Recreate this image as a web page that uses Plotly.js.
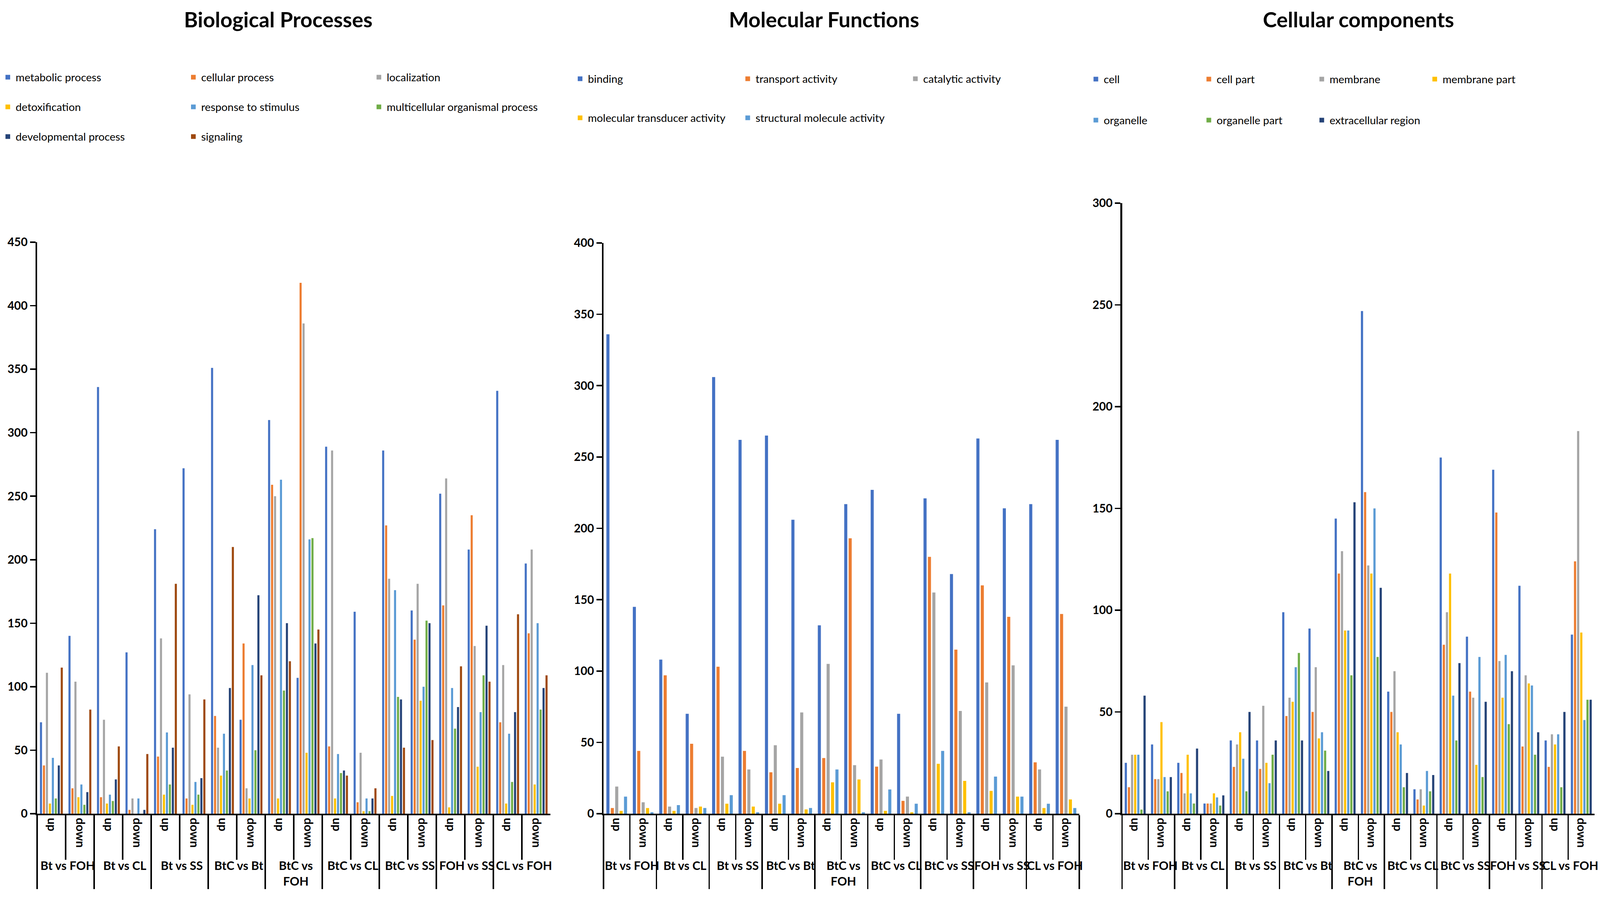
<!DOCTYPE html>
<html>
<head>
<meta charset="utf-8">
<script src="https://cdn.plot.ly/plotly-3.0.1.min.js"></script>
<style>
  html, body { margin: 0; padding: 0; overflow: hidden; background: #fff; }
  #chart { width: 100vw; height: 100vh; }
</style>
</head>
<body>
<div id="chart"></div>
<script>
// comparisons and direction (outer / inner category)
const comparisons = ['Bt vs FOH', 'Bt vs CL', 'Bt vs SS', 'BtC vs Bt', 'BtC vs<br>FOH',
                     'BtC vs CL', 'BtC vs SS', 'FOH vs SS', 'CL vs FOH'];
const directions = ['up', 'down'];

// Biological Processes
const bpNames = ['metabolic process', 'cellular process', 'localization', 'detoxification',
                 'response to stimulus', 'multicellular organismal process',
                 'developmental process', 'signaling'];
const metabolic     = [72, 140, 336, 127, 224, 272, 351, 74, 310, 107, 289, 159, 286, 160, 252, 208, 333, 197];
const cellular      = [38, 20, 13, 3, 45, 12, 77, 134, 259, 418, 53, 9, 227, 137, 164, 235, 72, 142];
const localization  = [111, 104, 74, 12, 138, 94, 52, 20, 250, 386, 286, 48, 185, 181, 264, 132, 117, 208];
const detox         = [8, 13, 8, 0, 15, 7, 30, 12, 12, 48, 12, 2, 14, 89, 5, 37, 8, 23];
const response      = [44, 23, 15, 12, 64, 25, 63, 117, 263, 216, 47, 12, 176, 100, 99, 80, 63, 150];
const multicellular = [12, 7, 10, 0, 23, 15, 34, 50, 97, 217, 32, 2, 92, 152, 67, 109, 25, 82];
const developmental = [38, 17, 27, 3, 52, 28, 99, 172, 150, 134, 34, 12, 90, 150, 84, 148, 80, 99];
const signaling     = [115, 82, 53, 47, 181, 90, 210, 109, 120, 145, 30, 20, 52, 58, 116, 104, 157, 109];

// Molecular Functions
const mfNames = ['binding', 'transport activity', 'catalytic activity',
                 'molecular transducer activity', 'structural molecule activity'];
const binding    = [336, 145, 108, 70, 306, 262, 265, 206, 132, 217, 227, 70, 221, 168, 263, 214, 217, 262];
const transport  = [4, 44, 97, 49, 103, 44, 29, 32, 39, 193, 33, 9, 180, 115, 160, 138, 36, 140];
const catalytic  = [19, 8, 5, 4, 40, 31, 48, 71, 105, 34, 38, 12, 155, 72, 92, 104, 31, 75];
const transducer = [2, 4, 2, 5, 7, 5, 7, 3, 22, 24, 2, 1, 35, 23, 16, 12, 4, 10];
const structural = [12, 1, 6, 4, 13, 1, 13, 4, 31, 1, 17, 7, 44, 1, 26, 12, 7, 4];

// Cellular components
const ccNames = ['cell', 'cell part', 'membrane', 'membrane part', 'organelle',
                 'organelle part', 'extracellular region'];
const cell          = [25, 34, 25, 5, 36, 36, 99, 91, 145, 247, 60, 12, 175, 87, 169, 112, 36, 88];
const cellPart      = [13, 17, 20, 5, 23, 22, 48, 50, 118, 158, 50, 7, 83, 60, 148, 33, 23, 124];
const membrane      = [29, 17, 10, 5, 34, 53, 57, 72, 129, 122, 70, 12, 99, 57, 75, 68, 39, 188];
const membranePart  = [29, 45, 29, 10, 40, 25, 55, 37, 90, 118, 40, 4, 118, 24, 57, 64, 34, 89];
const organelle     = [29, 18, 10, 8, 27, 15, 72, 40, 90, 150, 34, 21, 58, 77, 78, 63, 39, 46];
const organellePart = [2, 11, 5, 4, 11, 29, 79, 31, 68, 77, 13, 11, 36, 18, 44, 29, 13, 56];
const extracellular = [58, 18, 32, 9, 50, 36, 36, 21, 153, 111, 20, 19, 74, 55, 70, 40, 50, 56];

const colors = ['#4472C4', '#ED7D31', '#A5A5A5', '#FFC000', '#5B9BD5', '#70AD47', '#264478', '#9E480E'];

// build the two-level category arrays
const outer = [], inner = [];
comparisons.forEach(c => directions.forEach(d => { outer.push(c); inner.push(d); }));
const xcats = [outer, inner];

// design is laid out on a 4563 x 2350 grid, scaled to the real window
const RW = 4563, RH = 2350, RB = 267, RPH = RH - RB;
const W = window.innerWidth, H = window.innerHeight;
const sx = W / RW, sy = H / RH, s = Math.min(sx, sy);
const py = px => (RPH - px) / RPH;   // reference pixel from top -> paper y
const pxx = px => px / RW;

function makeTraces(names, values, xa, ya, legends) {
  return names.map((n, i) => ({
    type: 'bar', name: n, x: xcats, y: values[i],
    xaxis: xa, yaxis: ya,
    marker: {color: colors[i]},
    legend: legends[i]
  }));
}

const data = [].concat(
  makeTraces(bpNames,
    [metabolic, cellular, localization, detox, response, multicellular, developmental, signaling],
    'x', 'y',
    ['legend', 'legend', 'legend', 'legend2', 'legend2', 'legend2', 'legend3', 'legend3']),
  makeTraces(mfNames, [binding, transport, catalytic, transducer, structural],
    'x2', 'y2',
    ['legend4', 'legend4', 'legend4', 'legend5', 'legend5']),
  makeTraces(ccNames,
    [cell, cellPart, membrane, membranePart, organelle, organellePart, extracellular],
    'x3', 'y3',
    ['legend6', 'legend6', 'legend6', 'legend6', 'legend7', 'legend7', 'legend7'])
);

const family = 'Lato, Open Sans, Liberation Sans, sans-serif';
const tickFontX = {family: family, size: 34 * s, color: '#000', weight: 'bold'};
const tickFontY = {family: family, size: 33 * s, color: '#000', weight: 'bold'};
const legendFont = {family: family, size: 31 * s, color: '#000'};
const titleFont = {family: family, size: 60 * s, color: '#000', weight: 'bold'};

function xAxis(domain, anchor) {
  return {
    type: 'multicategory', domain: domain, anchor: anchor,
    showline: true, linecolor: '#000', linewidth: 5 * s,
    ticks: 'outside', ticklen: 127 * s, tickwidth: 3.5 * s, tickcolor: '#000',
    tickangle: 90, tickfont: tickFontX,
    showdividers: true, dividercolor: '#000', dividerwidth: 4 * s,
    showgrid: false, zeroline: false
  };
}
function yAxis(range, top, anchor) {
  return {
    range: range, dtick: 50, domain: [0, top], anchor: anchor,
    showline: true, linecolor: '#000', linewidth: 4.5 * s,
    ticks: 'outside', ticklen: 16 * s, tickwidth: 4 * s, tickcolor: '#000',
    ticklabelstandoff: 8 * s,
    showgrid: false, zeroline: false, tickfont: tickFontY
  };
}

function legendAt(xpx, ypx, entry) {
  return {
    orientation: 'h', x: pxx(xpx), y: py(ypx), xanchor: 'left', yanchor: 'middle',
    entrywidth: entry * s, entrywidthmode: 'pixels', font: legendFont,
    bgcolor: 'rgba(0,0,0,0)'
  };
}

function title(text, xpx) {
  return {text: text, x: pxx(xpx), y: py(49), xref: 'paper', yref: 'paper',
          showarrow: false, font: titleFont, xanchor: 'center', yanchor: 'middle'};
}

const layout = {
  width: W, height: H,
  margin: {l: 0, r: 0, t: 0, b: RB * sy, pad: 0},
  paper_bgcolor: '#fff', plot_bgcolor: '#fff',
  barmode: 'group', bargap: 0.167, bargroupgap: 0.3,
  showlegend: true,
  xaxis: xAxis([0.0232, 0.344], 'y'),
  yaxis: yAxis([0, 450], py(620), 'x'),
  xaxis2: xAxis([0.3772, 0.6745], 'y2'),
  yaxis2: yAxis([0, 400], py(622), 'x2'),
  xaxis3: xAxis([0.7013, 0.9965], 'y3'),
  yaxis3: yAxis([0, 300], py(520), 'x3'),
  legend:  legendAt(0, 198, 479),
  legend2: legendAt(0, 274, 479),
  legend3: legendAt(0, 350, 479),
  legend4: legendAt(1632, 202, 428),
  legend5: legendAt(1632, 302, 428),
  legend6: legendAt(3103, 203, 272),
  legend7: legendAt(3103, 308, 272),
  annotations: [
    title('Biological Processes', 794),
    title('Molecular Functions', 2350),
    title('Cellular components', 3875)
  ]
};

Plotly.newPlot('chart', data, layout, {displayModeBar: false, staticPlot: true});
</script>
</body>
</html>
